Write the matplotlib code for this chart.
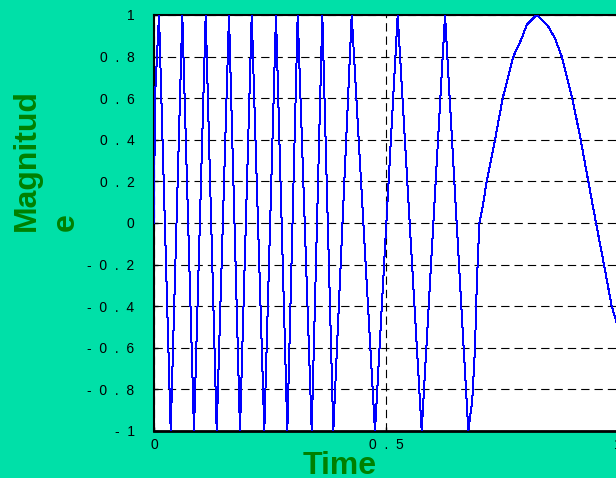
import matplotlib
matplotlib.use("Agg")
import matplotlib.pyplot as plt

# signal (time, magnitude) at extrema / grid crossings
time_pts = [0.0, 0.002, 0.0108, 0.036, 0.061, 0.0862, 0.1114, 0.1351, 0.1616,
            0.1853, 0.2106, 0.2377, 0.2629, 0.2873, 0.3097, 0.3399, 0.3627,
            0.3864, 0.4261, 0.4763, 0.5252, 0.5769, 0.6272, 0.6774,
            0.686, 0.6918, 0.6955, 0.7011, 0.7084, 0.717, 0.7349, 0.7515,
            0.7744, 0.7925, 0.8032, 0.8248, 0.8476, 0.8642, 0.8787, 0.9015,
            0.9196, 0.936, 0.9526, 0.9698, 0.9864, 1.0]
mag_pts = [0.0, 0.6, 1, -1, 1, -1, 1, -1, 1,
           -1, 1, -1, 1, -1, 1, -1, 1,
           -1, 1, -1, 1, -1, 1, -1,
           -0.85, -0.6, -0.31, 0.0, 0.08, 0.2, 0.4, 0.6,
           0.8, 0.888, 0.952, 1.0, 0.952, 0.888, 0.8, 0.6,
           0.4, 0.2, 0.0, -0.2, -0.4, -0.5]

yticks = [1, 0.8, 0.6, 0.4, 0.2, 0, -0.2, -0.4, -0.6, -0.8, -1]
ytick_labels = ['1', '0  .  8', '0  .  6', '0  .  4', '0  .  2', '0',
                '-  0  .  2', '-  0  .  4', '-  0  .  6', '-  0  .  8', '-  1']
xticks = [0, 0.5, 1]
xtick_labels = ['0', '0  .  5', '1']

bg = '#00E0A8'
label_green = '#008000'

plt.rcParams['font.family'] = ['Liberation Sans', 'DejaVu Sans']
plt.rcParams['lines.scale_dashes'] = False

fig = plt.figure(figsize=(6.16, 4.78), dpi=100, facecolor=bg)
ax = fig.add_axes([154 / 616, 47 / 478, 464 / 616, 416 / 478])
ax.set_facecolor('white')

ax.plot(time_pts, mag_pts, color='#0000FF', linewidth=0.72, antialiased=False,
        zorder=3)

ax.set_xlim(0, 1)
ax.set_ylim(-1, 1)
ax.set_xticks(xticks)
ax.set_xticklabels(xtick_labels)
ax.set_yticks(yticks)
ax.set_yticklabels(ytick_labels)
ax.tick_params(direction='in', length=3, width=1, labelsize=10,
               colors='black', pad=5)
ax.tick_params(axis='y', pad=14)

ax.grid(True, color='black', linewidth=0.8, linestyle=(0, (6, 3.6)))
for side in ['left', 'top', 'bottom', 'right']:
    ax.spines[side].set_color('black')
    ax.spines[side].set_linewidth(1.5)
ax.spines['bottom'].set_linewidth(2)

fig.text(340 / 616, 1 - 466 / 478, 'Time', color=label_green,
         fontsize=23, fontweight='bold', ha='center', va='center')
fig.text(46 / 616, 1 - 160 / 478, 'Magnitud\ne', color=label_green,
         fontsize=23, fontweight='bold', ha='center', va='center',
         rotation=90, multialignment='left', linespacing=1.4)

fig.savefig('out.png', dpi=100, facecolor=bg)
